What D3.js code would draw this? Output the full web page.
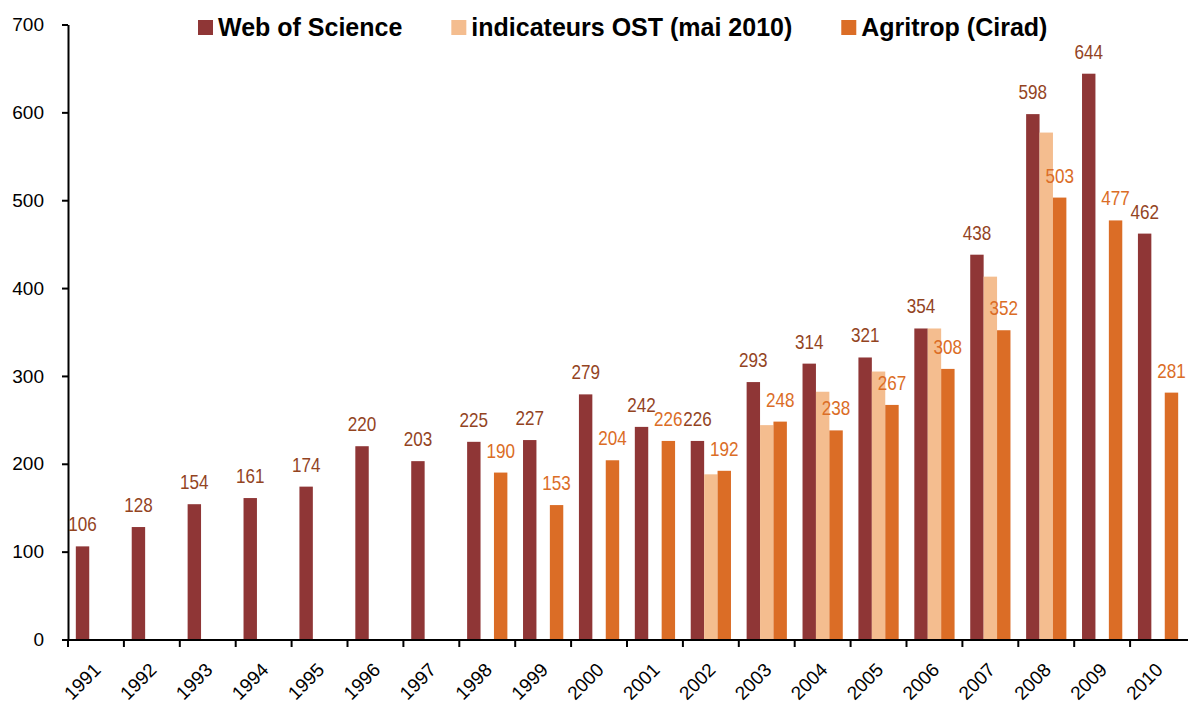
<!DOCTYPE html>
<html>
<head>
<meta charset="utf-8">
<script src="https://cdn.jsdelivr.net/npm/d3@7"></script>
<style>
  body { margin: 0; background: #fff; }
  svg { display: block; font-family: "Liberation Sans", Arial, sans-serif; }
</style>
</head>
<body>
<div id="graph"></div>
<script>
// chart data
const years = ['1991','1992','1993','1994','1995','1996','1997','1998','1999','2000',
               '2001','2002','2003','2004','2005','2006','2007','2008','2009','2010'];
const wos = [106,128,154,161,174,220,203,225,227,279,242,226,293,314,321,354,438,598,644,462];
const ost = [null,null,null,null,null,null,null,null,null,null,null,188,244,282,305,354,413,577,null,null];
const agritrop = [null,null,null,null,null,null,null,190,153,204,226,192,248,238,267,308,352,503,477,281];
const seriesNames = ['Web of Science', 'indicateurs OST (mai 2010)', 'Agritrop (Cirad)'];
const yTicks = [0,100,200,300,400,500,600,700];

const colors = ['#8F3636', '#F4BD8F', '#DB6D26'];
const labelColors = ['#93441F', null, '#DB6D26'];

let w = 1188, h = 706;
let svg = d3.select('#graph').append('svg')
    .attr('width', w)
    .attr('height', h);

svg.append('rect').attr('width', w).attr('height', h).attr('fill', '#fff');

let x = d3.scaleBand().domain(years).range([68, 1186]);
let bw = x.bandwidth();
let x1 = d3.scaleBand().domain([0,1,2]).range([bw*0.14, bw*0.86]);
let y = d3.scaleLinear().domain([0, 700]).range([639.5, 24.5]);

let allSeries = [wos, ost, agritrop];

// bars
allSeries.forEach(function(vals, s){
  svg.append('g').selectAll('rect')
    .data(years.map((yr,i) => ({yr: yr, v: vals[i]})).filter(d => d.v != null))
    .enter()
    .append('rect')
    .attr('x', d => x(d.yr) + x1(s))
    .attr('y', d => y(d.v))
    .attr('width', x1.bandwidth())
    .attr('height', d => y(0) - y(d.v))
    .attr('fill', colors[s]);
});

// value labels
allSeries.forEach(function(vals, s){
  if (!labelColors[s]) return;
  svg.append('g').selectAll('text')
    .data(years.map((yr,i) => ({yr: yr, v: vals[i]})).filter(d => d.v != null))
    .enter()
    .append('text')
    .text(d => d.v)
    .attr('transform', d => `translate(${x(d.yr) + x1(s) + x1.bandwidth()/2},${y(d.v) - 15}) scale(0.95,1.1)`)
    .attr('text-anchor', 'middle')
    .attr('font-size', '18px')
    .attr('fill', labelColors[s]);
});

// y axis
let yAxis = svg.append('g')
    .attr('transform', 'translate(68,0)')
    .call(d3.axisLeft(y).tickValues(yTicks).tickSize(6).tickSizeOuter(0).tickPadding(18));
yAxis.selectAll('path, line').attr('stroke', '#000').attr('stroke-width', 2);
yAxis.selectAll('text').attr('font-size', '19px').attr('fill', '#000')
    .attr('font-family', '"Liberation Sans", Arial, sans-serif');

// x axis
let xg = svg.append('g').attr('transform', 'translate(0,640)');
xg.append('line').attr('x1', 62).attr('x2', w).attr('y1', 0).attr('y2', 0)
  .attr('stroke', '#000').attr('stroke-width', 2);
xg.selectAll('line.tick')
  .data(years)
  .enter()
  .append('line')
  .attr('class', 'tick')
  .attr('x1', d => x(d)).attr('x2', d => x(d))
  .attr('y1', 0).attr('y2', 7)
  .attr('stroke', '#000').attr('stroke-width', 2);
xg.selectAll('text')
  .data(years)
  .enter()
  .append('text')
  .text(d => d)
  .attr('transform', d => `translate(${x(d) + bw/2 + 6},31) rotate(-45)`)
  .attr('text-anchor', 'end')
  .attr('font-size', '19px')
  .attr('fill', '#000');

// legend
let lx = 198;
seriesNames.forEach(function(name, s){
  let g = svg.append('g').attr('transform', `translate(${lx},0)`);
  g.append('rect').attr('x', 0).attr('y', 20).attr('width', 15).attr('height', 15).attr('fill', colors[s]);
  let t = g.append('text').text(name)
    .attr('x', 20).attr('y', 36)
    .attr('font-size', '25px')
    .attr('font-weight', 'bold')
    .attr('fill', '#000');
  lx += 20 + t.node().getComputedTextLength() + 49;
});
</script>
</body>
</html>
